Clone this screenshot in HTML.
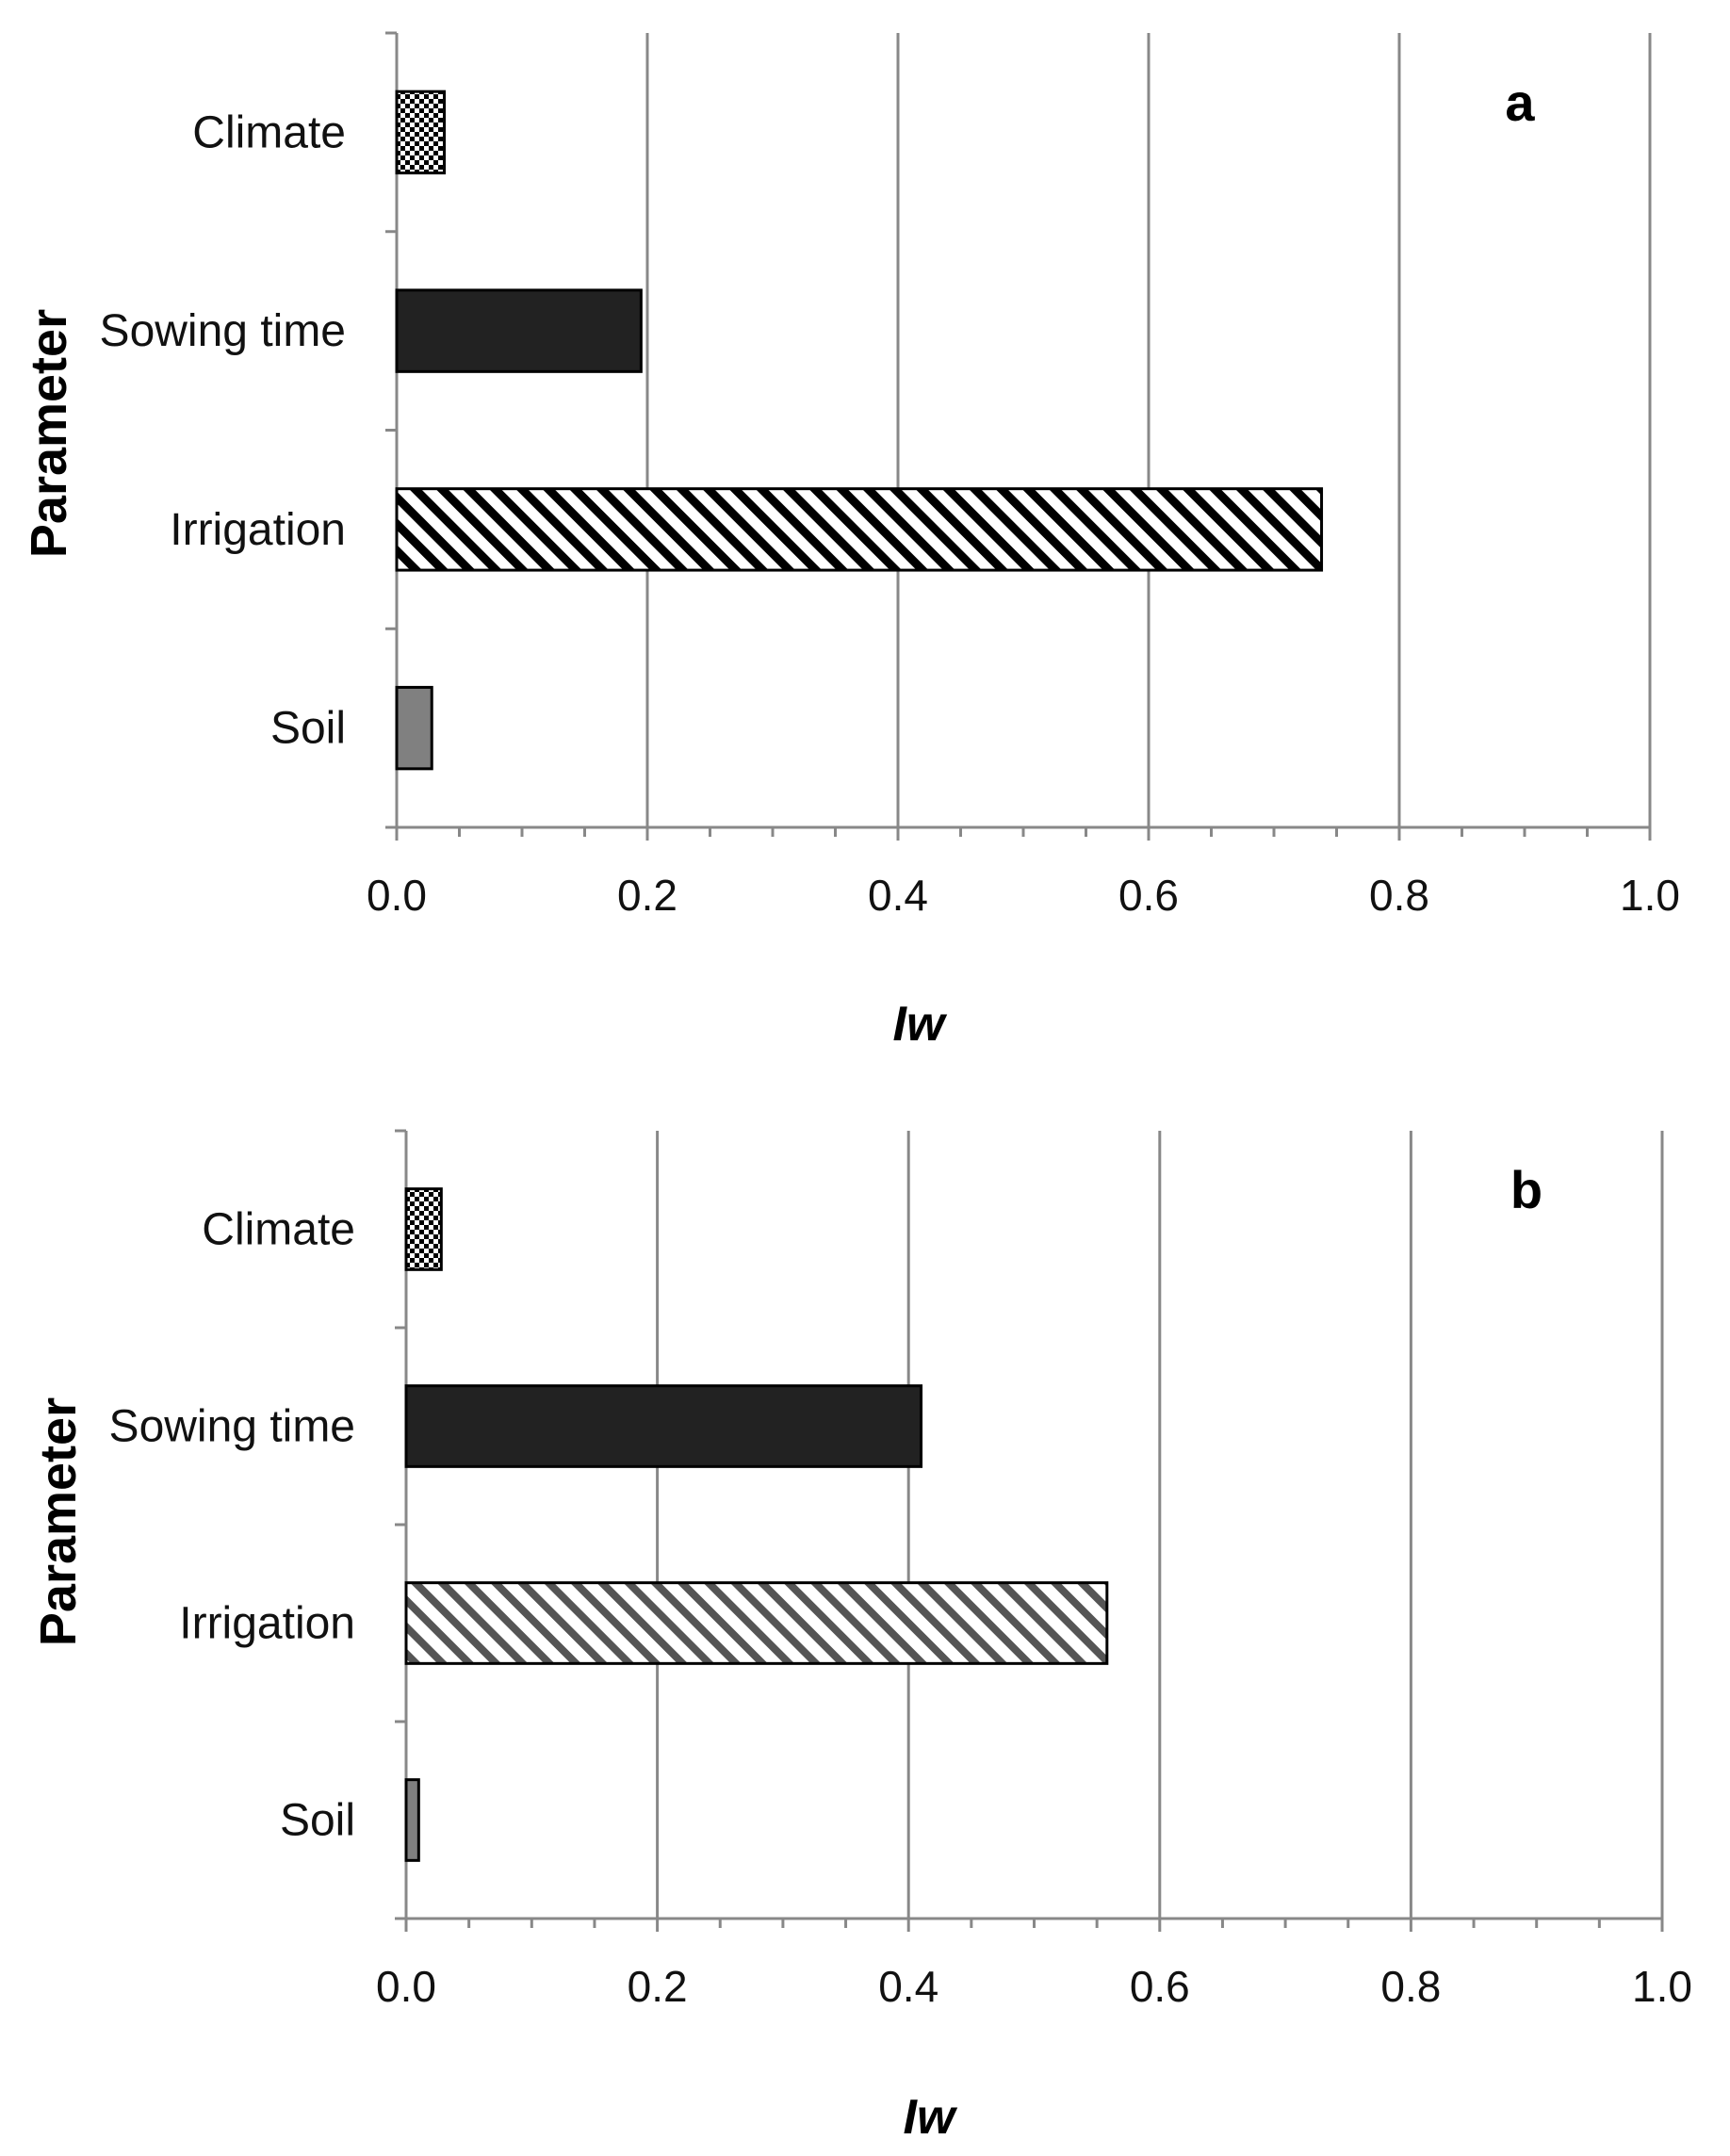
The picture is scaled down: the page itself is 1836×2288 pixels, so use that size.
<!DOCTYPE html>
<html><head><meta charset="utf-8"><style>
html,body{margin:0;padding:0;background:#fff}
svg{display:block}
text{font-family:"Liberation Sans",sans-serif}
</style></head><body>
<svg id="chart" width="1836" height="2288" viewBox="0 0 1836 2288" xmlns="http://www.w3.org/2000/svg">
<defs>
<pattern id="checker" width="10" height="10" patternUnits="userSpaceOnUse">
<rect width="10" height="10" fill="#fff"/><rect width="5" height="5" fill="#000"/><rect x="5" y="5" width="5" height="5" fill="#000"/>
</pattern>
<pattern id="stripeA" width="20" height="20" patternUnits="userSpaceOnUse" patternTransform="rotate(-45)">
<rect width="20" height="20" fill="#fff"/><rect width="9" height="20" fill="#000"/>
</pattern>
<pattern id="stripeB" width="20" height="20" patternUnits="userSpaceOnUse" patternTransform="rotate(-45)">
<rect width="20" height="20" fill="#fff"/><rect width="8" height="20" fill="#555"/>
</pattern>
</defs>
</svg>
<script>
const categories = ["Soil", "Irrigation", "Sowing time", "Climate"];
const valuesA = [0.028, 0.738, 0.195, 0.038];
const valuesB = [0.010, 0.558, 0.410, 0.028];
const xTicks = ["0.0", "0.2", "0.4", "0.6", "0.8", "1.0"];
const fills = ["#808080", null, "#222", "url(#checker)"];

const svg = document.getElementById('chart');
const NS = 'http://www.w3.org/2000/svg';
function mk(tag, attrs, parent) {
  const e = document.createElementNS(NS, tag);
  for (const k in attrs) e.setAttribute(k, attrs[k]);
  (parent || svg).appendChild(e);
  return e;
}
function panel(cfg) {
  const g = mk('g', {});
  
  
  const xs = v => cfg.x0 + (cfg.x1 - cfg.x0) * v;
  const n = categories.length;
  const band = (cfg.yBot - cfg.yTop) / n;
  for (let i = 1; i < xTicks.length; i++) {
    const x = xs(i / (xTicks.length - 1));
    const l = mk('line', {x1: x, x2: x, y1: cfg.yTop, y2: cfg.yBot, stroke: '#888', 'stroke-width': 3}, g);
    
    
  }
  const ya = mk('line', {x1: cfg.x0, x2: cfg.x0, y1: cfg.yTop, y2: cfg.yBot, stroke: '#888', 'stroke-width': 3}, g);
  
  
  for (let i = 0; i <= n; i++) {
    const y = cfg.yTop + band * i;
    mk('line', {x1: cfg.x0 - 12, x2: cfg.x0, y1: y, y2: y, stroke: '#888', 'stroke-width': 3}, g);
  }
  const xa = mk('line', {x1: cfg.x0 - 12, x2: cfg.x1, y1: cfg.yBot, y2: cfg.yBot, stroke: '#888', 'stroke-width': 3}, g);
  
  
  for (let i = 0; i <= 20; i++) {
    const x = xs(i / 20);
    mk('line', {x1: x, x2: x, y1: cfg.yBot, y2: cfg.yBot + (i % 4 === 0 ? 14 : 10), stroke: '#888', 'stroke-width': 3}, g);
  }
  xTicks.forEach((t, i) => {
    const tx = mk('text', {x: xs(i / (xTicks.length - 1)), y: cfg.yBot + 88, 'font-size': 46, 'text-anchor': 'middle', fill: '#111'}, g);
    tx.textContent = t;
    
    
  });
  categories.forEach((c, i) => {
    const cy = cfg.yBot - band * (i + 0.5);
    const h = band * 0.41;
    const fill = fills[i] || cfg.stripe;
    const r = mk('rect', {x: cfg.x0, y: cy - h / 2, width: xs(cfg.values[i]) - cfg.x0, height: h, fill: fill, stroke: '#000', 'stroke-width': 3}, g);
    
    
    const lb = mk('text', {x: cfg.x0 - 54, y: cy + 16, 'font-size': 48, 'text-anchor': 'end', fill: '#111'}, g);
    lb.textContent = c;
    
    
  });
  const yt = mk('text', {x: 0, y: 0, 'font-size': 54, 'font-weight': 'bold', 'text-anchor': 'middle', transform: `translate(${cfg.ytx},${cfg.yty}) rotate(-90)`}, g);
  yt.textContent = 'Parameter';
  
  
  const xt = mk('text', {x: cfg.xtx, y: cfg.xty, 'font-size': 52, 'font-weight': 'bold', 'font-style': 'italic', 'text-anchor': 'middle'}, g);
  xt.textContent = 'Iw';
  
  
  const pl = mk('text', {x: cfg.lx, y: cfg.ly, 'font-size': 56, 'font-weight': 'bold', 'text-anchor': 'middle'}, g);
  pl.textContent = cfg.label;
  
  
}
panel({name: 'panel-a', values: valuesA, x0: 421, x1: 1751, yTop: 35, yBot: 878, stripe: 'url(#stripeA)', ytx: 70, yty: 460, xtx: 975, xty: 1104, lx: 1613, ly: 128, label: 'a'});
panel({name: 'panel-b', values: valuesB, x0: 431, x1: 1764, yTop: 1200, yBot: 2036, stripe: 'url(#stripeB)', ytx: 80, yty: 1615, xtx: 986, xty: 2264, lx: 1620, ly: 1282, label: 'b'});
</script>
</body></html>
